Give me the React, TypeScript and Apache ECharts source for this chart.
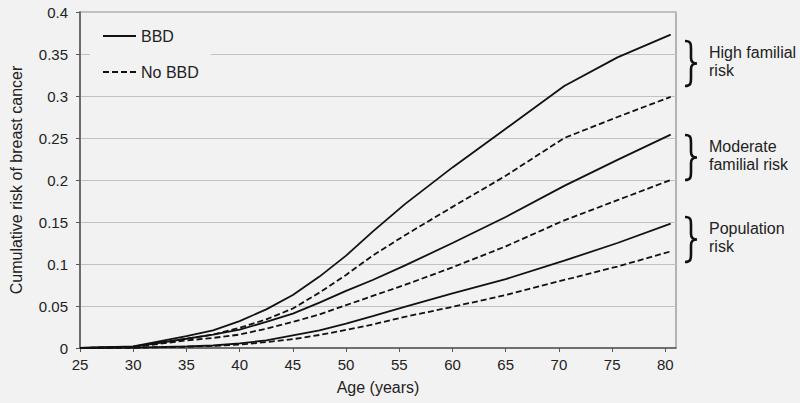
import React, { useEffect, useRef } from "react";
import * as echarts from "echarts";

const ages = [25, 30, 35, 37.5, 40, 42.5, 45, 47.5, 50, 52.5, 55.5, 60, 65, 70.5, 75.5, 80.5];
const highBBD = [0, 0.002, 0.014, 0.021, 0.032, 0.046, 0.063, 0.085, 0.11, 0.1385, 0.171, 0.215, 0.261, 0.312, 0.346, 0.373];
const highNoBBD = [0, 0.0015, 0.011, 0.016, 0.024, 0.034, 0.047, 0.066, 0.087, 0.11, 0.134, 0.168, 0.205, 0.25, 0.275, 0.299];
const modBBD = [0, 0.0015, 0.011, 0.016, 0.022, 0.031, 0.041, 0.054, 0.068, 0.081, 0.098, 0.125, 0.156, 0.193, 0.224, 0.254];
const modNoBBD = [0, 0.001, 0.009, 0.012, 0.016, 0.023, 0.031, 0.04, 0.051, 0.062, 0.075, 0.096, 0.121, 0.152, 0.176, 0.2];
const popBBD = [0, 0.0005, 0.002, 0.003, 0.0056, 0.009, 0.015, 0.021, 0.029, 0.038, 0.049, 0.065, 0.082, 0.104, 0.125, 0.148];
const popNoBBD = [0, 0.0003, 0.0015, 0.0025, 0.004, 0.007, 0.0105, 0.0155, 0.0215, 0.028, 0.037, 0.049, 0.063, 0.081, 0.097, 0.115];

const xTicks = [25, 30, 35, 40, 45, 50, 55, 60, 65, 70, 75, 80];
const groupLabels = ["High familial\nrisk", "Moderate\nfamilial risk", "Population\nrisk"];
const legendNames = ["BBD", "No BBD"];

const FONT = "'Liberation Sans', Arial, Helvetica, sans-serif";
const BRACE_D =
  "M0,0 C6,0 6,3 6,8 L6,17 C6,21 8,22.5 12,22.5 C8,22.5 6,24 6,28 L6,37 C6,42 6,45 0,45";

let registered = false;

export default function App() {
  const ref = useRef<HTMLDivElement>(null);
  useEffect(() => {
    if (!registered) {
      echarts.graphic.registerShape("brace", echarts.graphic.extendPath(BRACE_D, {}));
      registered = true;
    }
    const chart = echarts.init(ref.current!, null, { renderer: "svg" });
    const mk = (name: string, vals: number[], dashed: boolean) => ({
      name,
      type: "line",
      data: ages.map((a, i) => [a, vals[i]]),
      symbol: "none",
      lineStyle: { color: "#111", width: 1.8, type: dashed ? [6, 3] : "solid" },
      itemStyle: { color: "#111" },
      z: 3,
    });
    const braceTops = [41, 135, 217];
    const textTops = [43, 137, 219];
    const graphics: any[] = [];
    braceTops.forEach((t, i) => {
      graphics.push({
        type: "brace",
        x: 685,
        y: t,
        style: { fill: "none", stroke: "#111", lineWidth: 2.6 },
      });
      graphics.push({
        type: "text",
        x: 709,
        y: textTops[i],
        style: {
          text: groupLabels[i],
          font: `16px ${FONT}`,
          fill: "#222",
          lineHeight: 18.5,
        },
      });
    });
    chart.setOption({
      animation: false,
      backgroundColor: "#f2f2f2",
      textStyle: { fontFamily: FONT },
      grid: {
        left: 76,
        right: 124,
        top: 12,
        bottom: 55,
        show: true,
        borderColor: "#8a8a8a",
        borderWidth: 1.2,
        backgroundColor: "transparent",
      },
      legend: {
        data: legendNames,
        orient: "vertical",
        left: 90,
        top: 19,
        padding: [9, 12, 9, 12],
        itemGap: 20,
        itemWidth: 33,
        itemHeight: 16,
        backgroundColor: "#f2f2f2",
        itemStyle: { color: "transparent", borderColor: "transparent", borderWidth: 0, opacity: 0 },
        textStyle: { fontSize: 16, color: "#222", fontFamily: FONT },
        selectedMode: false,
      },
      xAxis: {
        type: "value",
        min: 25,
        max: 81,
        interval: 5,
        name: "Age (years)",
        nameLocation: "middle",
        nameGap: 31,
        nameTextStyle: { fontSize: 16, color: "#222" },
        axisLine: { lineStyle: { color: "#555", width: 1.5 } },
        axisTick: { show: true, length: 4, lineStyle: { color: "#555" }, customValues: xTicks },
        axisLabel: { fontSize: 15, color: "#222", margin: 9, customValues: xTicks },
        splitLine: { show: false },
      },
      yAxis: {
        type: "value",
        min: 0,
        max: 0.4,
        interval: 0.05,
        name: "Cumulative risk of breast cancer",
        nameLocation: "middle",
        nameGap: 56,
        nameTextStyle: { fontSize: 16, color: "#222" },
        axisLine: { show: true, lineStyle: { color: "#555", width: 1.5 } },
        axisTick: { show: true, length: 4, lineStyle: { color: "#555" } },
        axisLabel: { fontSize: 15, color: "#222", margin: 12 },
        splitLine: { show: true, lineStyle: { color: "#c2c2c2", width: 1.2 } },
      },
      series: [
        mk("BBD", highBBD, false),
        mk("No BBD", highNoBBD, true),
        mk("BBD", modBBD, false),
        mk("No BBD", modNoBBD, true),
        mk("BBD", popBBD, false),
        mk("No BBD", popNoBBD, true),
      ],
      graphic: graphics,
    });
    return () => chart.dispose();
  }, []);
  return (
    <div
      ref={ref}
      style={{ position: "absolute", left: 0, top: 0, width: 800, height: 403 }}
    />
  );
}
